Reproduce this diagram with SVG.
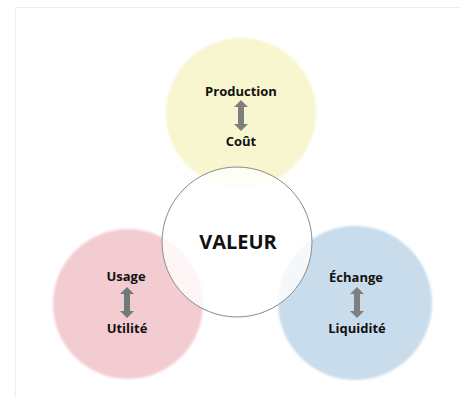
<svg xmlns="http://www.w3.org/2000/svg" width="461" height="403" viewBox="0 0 461 403">
  <defs>
    <filter id="soft" x="-10%" y="-10%" width="120%" height="120%">
      <feGaussianBlur stdDeviation="1"/>
    </filter>
    <path id="dbl" d="M0,0 L7,7 L3,7 L3,24 L7,24 L0,31 L-7,24 L-3,24 L-3,7 L-7,7 Z"/>
  </defs>
  <style>
    .lbl { font-family: "Open Sans", "Noto Sans", sans-serif; font-weight: bold; font-size: 13px; fill: #111; text-anchor: middle; }
    .big { font-family: "Open Sans", "Noto Sans", sans-serif; font-weight: bold; font-size: 20px; fill: #111; text-anchor: middle; }
    .arr { fill: #7f7f7f; }
  </style>
  <rect width="461" height="403" fill="#ffffff"/>
  <path d="M15.5,397 L15.5,7.5 L461,7.5" fill="none" stroke="#efefe6" stroke-width="1.2"/>

  <g id="production">
    <circle cx="241" cy="113" r="75" fill="#f7f6cf" filter="url(#soft)"/>
    <text class="lbl" x="241" y="96">Production</text>
    <text class="lbl" x="241" y="146">Coût</text>
  </g>
  <g id="usage">
    <circle cx="128" cy="304" r="75" fill="#f2ccd0" filter="url(#soft)"/>
    <text class="lbl" x="126" y="281">Usage</text>
    <text class="lbl" x="127" y="333">Utilité</text>
  </g>
  <g id="echange">
    <circle cx="355" cy="303" r="77" fill="#c8dcec" filter="url(#soft)"/>
    <text class="lbl" x="356" y="282">Échange</text>
    <text class="lbl" x="357" y="333">Liquidité</text>
  </g>
  <g id="valeur">
    <circle cx="237" cy="242" r="75" fill="#ffffff" fill-opacity="0.8" stroke="#8a8a8a" stroke-width="1"/>
    <text class="big" x="238" y="249">VALEUR</text>
  </g>

  <g id="connectors">
    <use href="#dbl" class="arr" x="241" y="100"/>
    <use href="#dbl" class="arr" x="127" y="287" style="fill:#6e7b76"/>
    <use href="#dbl" class="arr" x="357" y="287"/>
  </g>
</svg>
